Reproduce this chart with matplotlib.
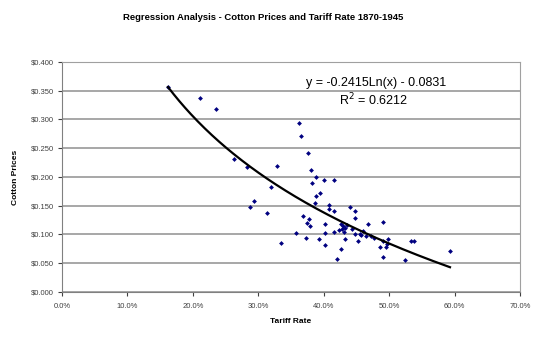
import numpy as np
import matplotlib.pyplot as plt
from matplotlib.ticker import FuncFormatter, MultipleLocator

# Datos (arancel en %, precio en dolares)
tariff_pct = [16.2, 21.1, 23.6, 26.3, 28.2, 32.8, 31.9, 29.3, 28.7, 31.3,
              33.4, 35.7, 36.2, 36.5, 37.6, 38.1, 38.8, 38.2, 40.1, 41.5,
              39.4, 38.8, 38.7, 40.8, 40.8, 41.6, 44.0, 44.8, 44.8, 36.8,
              37.7, 37.4, 37.9, 40.2, 42.6, 43.0, 43.3, 42.8, 43.5, 42.4,
              43.1, 46.8, 49.0, 40.2, 41.6, 44.3, 44.8, 45.7, 46.0, 46.4,
              45.2, 43.3, 39.3, 37.3, 40.2, 42.6, 42.1, 47.7, 48.6, 49.5,
              49.1, 49.9, 49.6, 49.1, 52.4, 53.4, 53.8, 59.3, 45.5, 47.2]
cotton_price = [0.357, 0.337, 0.318, 0.232, 0.218, 0.219, 0.183, 0.159, 0.148, 0.138,
                0.085, 0.103, 0.293, 0.272, 0.241, 0.212, 0.200, 0.189, 0.194, 0.194,
                0.173, 0.167, 0.154, 0.151, 0.144, 0.140, 0.148, 0.141, 0.129, 0.132,
                0.127, 0.120, 0.114, 0.119, 0.118, 0.115, 0.112, 0.110, 0.117, 0.107,
                0.105, 0.118, 0.121, 0.102, 0.105, 0.109, 0.100, 0.099, 0.106, 0.098,
                0.088, 0.093, 0.093, 0.094, 0.081, 0.074, 0.058, 0.094, 0.079, 0.078,
                0.089, 0.093, 0.084, 0.060, 0.056, 0.088, 0.088, 0.072, 0.100, 0.097]

# Linea de tendencia logaritmica (coeficientes del grafico)
coef_a = -0.2415
coef_b = -0.0831
r2 = 0.6212

x = np.array(tariff_pct) / 100
y = np.array(cotton_price)

fig = plt.figure(figsize=(5.42, 3.58), dpi=100)
ax = fig.add_axes([0.1144, 0.1844, 0.845, 0.6425])

ax.scatter(x, y, marker='D', s=6, color='#000080', zorder=3, linewidths=0)

xt = np.linspace(x.min(), x.max(), 200)
ax.plot(xt, coef_a * np.log(xt) + coef_b, color='black', lw=1.6, zorder=4)

ax.set_xlim(0, 0.7)
ax.set_ylim(0, 0.4)
ax.xaxis.set_major_locator(MultipleLocator(0.1))
ax.yaxis.set_major_locator(MultipleLocator(0.05))
ax.xaxis.set_major_formatter(FuncFormatter(lambda v, p: f'{v*100:.1f}%'))
ax.yaxis.set_major_formatter(FuncFormatter(lambda v, p: f'${v:.3f}'))
ax.grid(axis='y', color='#a0a0a0', lw=1.3)
ax.set_axisbelow(True)

for lado in ['top', 'right']:
    ax.spines[lado].set_color('#a0a0a0')
for lado in ['left', 'bottom']:
    ax.spines[lado].set_color('#808080')
ax.tick_params(labelsize=5.5, colors='#404040', length=3, width=0.8, pad=3)
ax.tick_params(axis='x', pad=5)

fuente = 'Liberation Sans'
for lab in ax.get_xticklabels() + ax.get_yticklabels():
    lab.set_family(fuente)

ax.set_xlabel('Tariff Rate', fontsize=6, fontweight='bold', family=fuente, labelpad=6)
ax.set_ylabel('Cotton Prices', fontsize=6, fontweight='bold', family=fuente, labelpad=8)
fig.text(0.485, 0.952, 'Regression Analysis - Cotton Prices and Tariff Rate 1870-1945',
         ha='center', va='center', fontsize=6.8, fontweight='bold', family=fuente)

ax.text(0.48, 0.363, 'y = -0.2415Ln(x) - 0.0831', ha='center', va='center',
        fontsize=9, family=fuente)
ax.text(0.476, 0.333, f'R$^2$ = {r2}', ha='center', va='center',
        fontsize=9, family=fuente)

fig.savefig('out.png', dpi=100)
